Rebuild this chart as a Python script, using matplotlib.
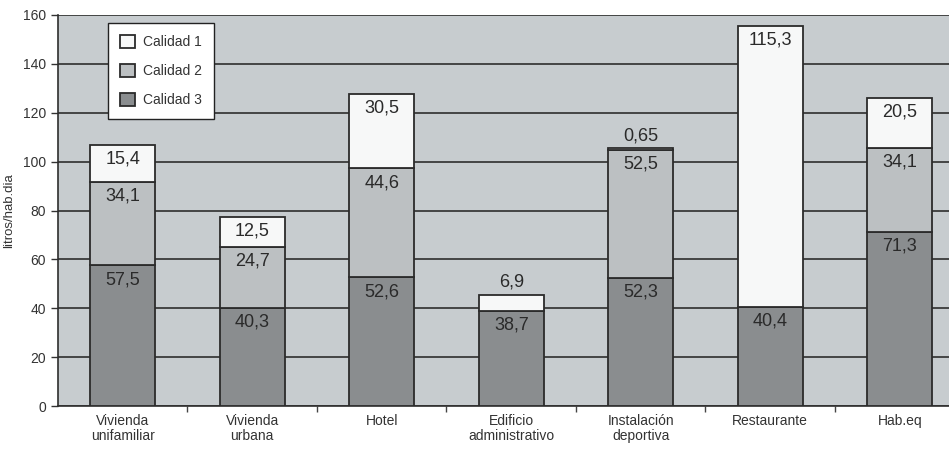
import matplotlib
matplotlib.use("Agg")
import matplotlib.pyplot as plt
import numpy as np

categories = ["Vivienda\nunifamiliar", "Vivienda\nurbana", "Hotel", "Edificio\nadministrativo",
              "Instalación\ndeportiva", "Restaurante", "Hab.eq"]
calidad3 = [57.5, 40.3, 52.6, 38.7, 52.3, 40.4, 71.3]
calidad2 = [34.1, 24.7, 44.6, 0.0, 52.5, 0.0, 34.1]
calidad1 = [15.4, 12.5, 30.5, 6.9, 0.65, 115.3, 20.5]
labels3 = ["57,5", "40,3", "52,6", "38,7", "52,3", "40,4", "71,3"]
labels2 = ["34,1", "24,7", "44,6", "", "52,5", "", "34,1"]
labels1 = ["15,4", "12,5", "30,5", "6,9", "0,65", "115,3", "20,5"]
yticks = [0, 20, 40, 60, 80, 100, 120, 140, 160]

col3 = "#8a8d8f"
col2 = "#bcc0c2"
col1 = "#f7f8f8"
edge = "#2b2b2b"

plt.rcParams["font.family"] = ["Liberation Sans", "DejaVu Sans"]

fig = plt.figure(figsize=(9.49, 4.5), dpi=100)
ax = fig.add_axes([58 / 949, 1 - 406 / 450, 7 * 129.5 / 949, 391 / 450])
ax.set_facecolor("#c7cccf")

x = np.arange(len(categories))
w = 0.5
c3 = np.array(calidad3)
c2 = np.array(calidad2)
c1 = np.array(calidad1)

ax.bar(x, c3, w, color=col3, edgecolor=edge, linewidth=1.3, zorder=3, label="Calidad 3")
ax.bar(x, c2, w, bottom=c3, color=col2, edgecolor=edge, linewidth=1.3, zorder=3, label="Calidad 2")
ax.bar(x, c1, w, bottom=c3 + c2, color=col1, edgecolor=edge, linewidth=1.3, zorder=3, label="Calidad 1")

# value labels: inside near the top of each segment, above the bar when the segment is thin
for i in range(len(x)):
    tops = [c3[i], c3[i] + c2[i], c3[i] + c2[i] + c1[i]]
    heights = [c3[i], c2[i], c1[i]]
    for lab, top, h in zip([labels3[i], labels2[i], labels1[i]], tops, heights):
        if not lab:
            continue
        if h < 10:
            ax.annotate(lab, (x[i], top), xytext=(0, 3), textcoords="offset points",
                        ha="center", va="bottom", fontsize=13, color="#2a2a2a", zorder=4)
        else:
            ax.annotate(lab, (x[i], top), xytext=(0, -4), textcoords="offset points",
                        ha="center", va="top", fontsize=13, color="#2a2a2a", zorder=4)

ax.set_xlim(-0.5, len(categories) - 0.5)
ax.set_ylim(0, 160)
ax.set_yticks(yticks)
ax.yaxis.grid(True, color="#2e2e2e", linewidth=1.2, zorder=1)
ax.set_axisbelow(True)
ax.set_xticks(x)
ax.set_xticklabels(categories, fontsize=10, color="#333333", linespacing=1.1)
ax.tick_params(axis="x", length=0, pad=6)
ax.set_xticks(np.arange(0.5, len(categories) - 0.5, 1), minor=True)
ax.tick_params(axis="x", which="minor", length=4, width=1, color="#444444")
ax.tick_params(axis="y", length=5, width=1, color="#333333", labelsize=10, labelcolor="#333333")
ax.set_ylabel("litros/hab.dia", fontsize=9.5, color="#333333")
ax.yaxis.set_label_coords(-43 / 906.5, 0.5)

for side in ["top", "right"]:
    ax.spines[side].set_visible(False)
for side in ["left", "bottom"]:
    ax.spines[side].set_color("#2e2e2e")
    ax.spines[side].set_linewidth(1.2)

handles, names = ax.get_legend_handles_labels()
leg = ax.legend(handles[::-1], names[::-1], loc="upper left", bbox_to_anchor=(50 / 906.5, 0.98),
                fontsize=10, frameon=True, fancybox=False, edgecolor="#222222",
                facecolor="white", framealpha=1, handlelength=1.1, handleheight=1.1,
                labelspacing=1.05, borderpad=0.85, handletextpad=0.6, borderaxespad=0)
leg.get_frame().set_linewidth(1.0)
for t in leg.get_texts():
    t.set_color("#333333")

fig.savefig("out.png", dpi=100)
